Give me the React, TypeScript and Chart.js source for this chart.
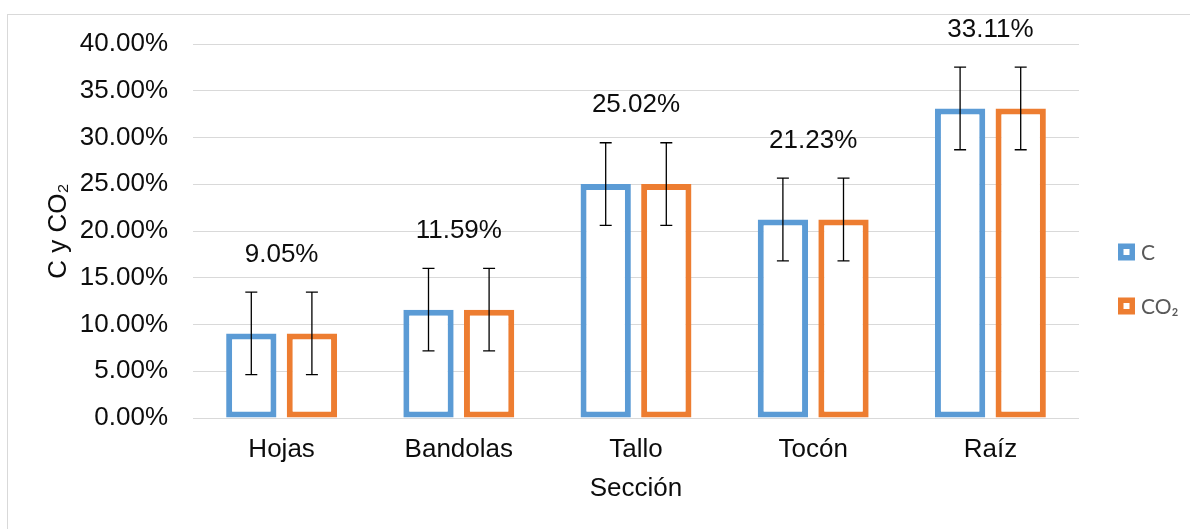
import React, { useEffect, useRef } from "react";
import { Chart, registerables } from "chart.js";

Chart.register(...registerables);

const categories = ["Hojas", "Bandolas", "Tallo", "Tocón", "Raíz"];
const seriesC = [9.05, 11.59, 25.02, 21.23, 33.11];
const seriesCO2 = [9.05, 11.59, 25.02, 21.23, 33.11];
const errors = [4.42, 4.42, 4.42, 4.42, 4.42];
const valueLabels = ["9.05%", "11.59%", "25.02%", "21.23%", "33.11%"];
const seriesNames = ["C", "CO₂"];
const colors = ["#5B9BD5", "#ED7D31"];

const FONT = "'Liberation Sans', Arial, sans-serif";
const FS = 26;

const errorBarPlugin = {
  id: "errorBars",
  afterDatasetsDraw(chart: any) {
    const ctx = chart.ctx;
    const y = chart.scales.y;
    ctx.save();
    ctx.strokeStyle = "#000000";
    ctx.lineWidth = 1.3;
    chart.data.datasets.forEach((ds: any, i: number) => {
      const meta = chart.getDatasetMeta(i);
      meta.data.forEach((el: any, j: number) => {
        const v = ds.data[j];
        const e = errors[j];
        const top = y.getPixelForValue(v + e);
        const bot = y.getPixelForValue(v - e);
        const x = el.x;
        ctx.beginPath();
        ctx.moveTo(x, top);
        ctx.lineTo(x, bot);
        ctx.moveTo(x - 6, top);
        ctx.lineTo(x + 6, top);
        ctx.moveTo(x - 6, bot);
        ctx.lineTo(x + 6, bot);
        ctx.stroke();
      });
    });
    ctx.restore();
  },
};

const valueLabelPlugin = {
  id: "valueLabels",
  afterDatasetsDraw(chart: any) {
    const ctx = chart.ctx;
    const xs = chart.scales.x;
    const ys = chart.scales.y;
    ctx.save();
    ctx.fillStyle = "#0d0d0d";
    ctx.font = `${FS}px ${FONT}`;
    ctx.textAlign = "center";
    ctx.textBaseline = "middle";
    categories.forEach((_, j) => {
      const x = xs.getPixelForValue(j);
      const yy = ys.getPixelForValue(seriesC[j]) - 79;
      ctx.fillText(valueLabels[j], x, yy);
    });
    ctx.restore();
  },
};

const legendPlugin = {
  id: "customLegend",
  afterDraw(chart: any) {
    const ctx = chart.ctx;
    const area = chart.chartArea;
    const bx = area.right + 39;
    const centers = [252, 306];
    ctx.save();
    seriesNames.forEach((name, i) => {
      const cy = centers[i];
      ctx.fillStyle = colors[i];
      ctx.fillRect(bx, cy - 8.5, 17, 17);
      ctx.fillStyle = "#ffffff";
      ctx.fillRect(bx + 5.5, cy - 3, 6, 6);
      ctx.fillStyle = "#595959";
      ctx.font = `21px Lato, 'Open Sans', sans-serif`;
      ctx.textAlign = "left";
      ctx.textBaseline = "middle";
      ctx.fillText(name, bx + 23, cy + 1);
    });
    ctx.restore();
  },
};

export default function App() {
  const ref = useRef<HTMLCanvasElement | null>(null);

  useEffect(() => {
    if (!ref.current) return;
    const chart = new Chart(ref.current, {
      type: "bar",
      data: {
        labels: categories,
        datasets: [
          {
            label: seriesNames[0],
            data: seriesC,
            backgroundColor: "#ffffff",
            borderColor: colors[0],
            borderWidth: 6,
            borderSkipped: false,
          },
          {
            label: seriesNames[1],
            data: seriesCO2,
            backgroundColor: "#ffffff",
            borderColor: colors[1],
            borderWidth: 6,
            borderSkipped: false,
          },
        ],
      },
      options: {
        animation: false,
        responsive: false,
        maintainAspectRatio: false,
        layout: { padding: { top: 44, right: 111, left: 0, bottom: 0 } },
        datasets: {
          bar: { categoryPercentage: 0.684, barPercentage: 0.83 },
        },
        plugins: {
          legend: { display: false },
          tooltip: { enabled: false },
        },
        scales: {
          x: {
            grid: { display: false, drawTicks: false },
            border: { display: false },
            ticks: {
              color: "#0d0d0d",
              font: { family: FONT, size: FS },
              padding: 16,
              maxRotation: 0,
            },
            title: {
              display: true,
              text: "Sección",
              color: "#0d0d0d",
              font: { family: FONT, size: FS },
              padding: { top: 0, bottom: 25 },
            },
            afterFit(scale: any) {
              scale.height = 111;
            },
          },
          y: {
            min: 0,
            max: 40,
            grid: { color: "#d9d9d9", lineWidth: 1, drawTicks: false },
            border: { display: false },
            ticks: {
              stepSize: 5,
              color: "#0d0d0d",
              font: { family: FONT, size: FS },
              padding: 25,
              callback: (v: any) => Number(v).toFixed(2) + "%",
            },
            title: {
              display: true,
              text: "C y CO₂",
              color: "#0d0d0d",
              font: { family: FONT, size: FS },
              padding: { top: 43, bottom: 0 },
            },
            afterFit(scale: any) {
              scale.width = 193;
            },
          },
        },
      },
      plugins: [errorBarPlugin, valueLabelPlugin, legendPlugin],
    });
    return () => chart.destroy();
  }, []);

  return (
    <div
      style={{
        position: "fixed",
        left: 0,
        top: 0,
        width: 1190,
        height: 529,
        overflow: "hidden",
        background: "#ffffff",
      }}
    >
      <div
        style={{
          position: "absolute",
          left: 7,
          top: 14,
          width: 1400,
          height: 800,
          border: "1px solid #d9d9d9",
        }}
      />
      <canvas
        ref={ref}
        width={1190}
        height={529}
        style={{ position: "absolute", left: 0, top: 0, width: 1190, height: 529 }}
      />
    </div>
  );
}
